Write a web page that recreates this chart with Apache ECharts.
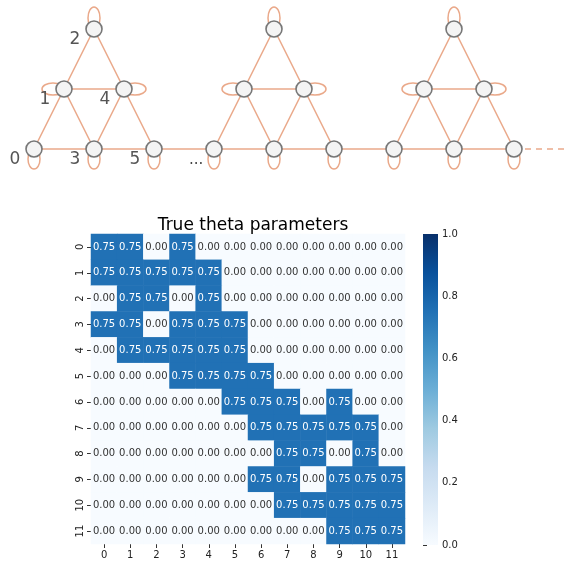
<!DOCTYPE html>
<html>
<head>
<meta charset="utf-8">
<script src="https://cdn.jsdelivr.net/npm/echarts@6/dist/echarts.min.js"></script>
<style>
  html, body { margin: 0; padding: 0; background: #fff; }
  #chart { width: 567px; height: 561px; }
</style>
</head>
<body>
<div id="chart"></div>
<script>
  // graph: one triangle block, repeated with an x offset
  const triNodes = [[0, 0], [0.5, 1], [1, 2], [1, 0], [1.5, 1], [2, 0]];
  const triEdges = [[2, 1], [2, 4], [1, 4], [1, 0], [1, 3], [4, 3], [4, 5], [0, 3], [3, 5]];
  const loopDir = ['down', 'left', 'up', 'down', 'right', 'down'];
  const triOffsets = [0, 3, 6];

  // heatmap
  const cats = ['0', '1', '2', '3', '4', '5', '6', '7', '8', '9', '10', '11'];
  const theta = [
    [0.75, 0.75, 0, 0.75, 0, 0, 0, 0, 0, 0, 0, 0],
    [0.75, 0.75, 0.75, 0.75, 0.75, 0, 0, 0, 0, 0, 0, 0],
    [0, 0.75, 0.75, 0, 0.75, 0, 0, 0, 0, 0, 0, 0],
    [0.75, 0.75, 0, 0.75, 0.75, 0.75, 0, 0, 0, 0, 0, 0],
    [0, 0.75, 0.75, 0.75, 0.75, 0.75, 0, 0, 0, 0, 0, 0],
    [0, 0, 0, 0.75, 0.75, 0.75, 0.75, 0, 0, 0, 0, 0],
    [0, 0, 0, 0, 0, 0.75, 0.75, 0.75, 0, 0.75, 0, 0],
    [0, 0, 0, 0, 0, 0, 0.75, 0.75, 0.75, 0.75, 0.75, 0],
    [0, 0, 0, 0, 0, 0, 0, 0.75, 0.75, 0, 0.75, 0],
    [0, 0, 0, 0, 0, 0, 0.75, 0.75, 0, 0.75, 0.75, 0.75],
    [0, 0, 0, 0, 0, 0, 0, 0.75, 0.75, 0.75, 0.75, 0.75],
    [0, 0, 0, 0, 0, 0, 0, 0, 0, 0.75, 0.75, 0.75]
  ];
  const blues = ['#f7fbff', '#deebf7', '#c6dbef', '#9ecae1', '#6baed6',
                 '#4292c6', '#2171b5', '#08519c', '#08306b'];

  const FONT = 'DejaVu Sans';
  const edgeColor = '#eaa98a';

  // build graph nodes / links
  let nodes = [], links = [], loops = [];
  triOffsets.forEach((off, t) => {
    triNodes.forEach((p, i) => {
      nodes.push({
        name: t + '_' + i,
        value: [p[0] + off, p[1]],
        label: { show: t === 0, formatter: String(i) }
      });
      loops.push([p[0] + off, p[1], loopDir[i]]);
    });
    triEdges.forEach(e => links.push({ source: t + '_' + e[0], target: t + '_' + e[1] }));
    if (t > 0) links.push({ source: (t - 1) + '_5', target: t + '_0' });
  });
  const last = triOffsets[triOffsets.length - 1];

  let heatData = [];
  theta.forEach((row, r) => row.forEach((v, c) => {
    heatData.push({
      value: [c, r, v],
      label: { color: v > 0.5 ? '#ffffff' : '#333333' }
    });
  }));

  const chart = echarts.init(document.getElementById('chart'));
  chart.setOption({
    animation: false,
    textStyle: { fontFamily: FONT },
    title: {
      text: 'True theta parameters',
      left: 248, top: 212, textAlign: 'center',
      textStyle: { fontFamily: FONT, fontSize: 17, fontWeight: 'normal', color: '#000' }
    },
    graphic: [{
      type: 'text', left: 189, top: 153,
      style: { text: '...', fontFamily: FONT, fontSize: 15, fill: '#444' }
    }],
    grid: [
      { left: 34, top: 29, width: 510, height: 120 },
      { left: 91, top: 234, width: 314, height: 310 },
      { left: 423, top: 234, width: 15, height: 311 }
    ],
    xAxis: [
      { gridIndex: 0, type: 'value', min: 0, max: 8.5, show: false },
      {
        gridIndex: 1, type: 'category', data: cats,
        axisLine: { show: false }, splitArea: { show: false },
        axisTick: { show: true, alignWithLabel: true, length: 4, lineStyle: { color: '#333' } },
        axisLabel: { fontFamily: FONT, fontSize: 10, color: '#222', margin: 6 }
      },
      { gridIndex: 2, type: 'value', min: 0, max: 1, show: false }
    ],
    yAxis: [
      { gridIndex: 0, type: 'value', min: 0, max: 2, show: false },
      {
        gridIndex: 1, type: 'category', data: cats, inverse: true,
        axisLine: { show: false },
        axisTick: { show: true, alignWithLabel: true, length: 4, lineStyle: { color: '#333' } },
        axisLabel: { fontFamily: FONT, fontSize: 10, color: '#222', rotate: 90, margin: 6 }
      },
      {
        gridIndex: 2, type: 'value', min: 0, max: 1, interval: 0.2, position: 'right',
        axisLine: { show: false }, splitLine: { show: false },
        axisTick: { show: true, length: 4, lineStyle: { color: '#333' } },
        axisLabel: { fontFamily: FONT, fontSize: 10, color: '#222', margin: 4,
                     formatter: v => v.toFixed(1) }
      }
    ],
    visualMap: {
      show: false, type: 'continuous', min: 0, max: 1, seriesIndex: 3,
      inRange: { color: blues }
    },
    series: [
      {
        // self loops
        type: 'custom', coordinateSystem: 'cartesian2d', xAxisIndex: 0, yAxisIndex: 0,
        z: 1, silent: true, clip: false,
        data: loops,
        renderItem: function (params, api) {
          const p = api.coord([api.value(0), api.value(1)]);
          const d = api.value(2);
          let shape;
          if (d === 'down') shape = { cx: p[0], cy: p[1] + 10, rx: 6, ry: 10 };
          else if (d === 'up') shape = { cx: p[0], cy: p[1] - 11, rx: 6, ry: 11 };
          else if (d === 'left') shape = { cx: p[0] - 11, cy: p[1], rx: 11, ry: 6 };
          else shape = { cx: p[0] + 11, cy: p[1], rx: 11, ry: 6 };
          return { type: 'ellipse', shape: shape,
                   style: { fill: 'none', stroke: edgeColor, lineWidth: 1.5 } };
        }
      },
      {
        type: 'lines', coordinateSystem: 'cartesian2d', xAxisIndex: 0, yAxisIndex: 0,
        z: 1, silent: true, clip: false,
        lineStyle: { color: edgeColor, width: 1.5, type: [6, 5], opacity: 1 },
        data: [{ coords: [[last + 2, 0], [last + 3, 0]] }]
      },
      {
        type: 'graph', coordinateSystem: 'cartesian2d', xAxisIndex: 0, yAxisIndex: 0,
        z: 2, silent: true,
        symbol: 'circle', symbolSize: 16,
        itemStyle: { color: '#f4f4f4', borderColor: '#777', borderWidth: 1.6 },
        lineStyle: { color: edgeColor, width: 1.5, opacity: 1 },
        label: { position: 'left', distance: 5, offset: [0, 11],
                 fontFamily: FONT, fontSize: 17, color: '#555' },
        data: nodes,
        links: links
      },
      {
        type: 'heatmap', xAxisIndex: 1, yAxisIndex: 1,
        data: heatData,
        label: { show: true, fontFamily: FONT, fontSize: 10,
                 formatter: p => p.value[2].toFixed(2) },
        itemStyle: { borderWidth: 0 }
      },
      {
        // colorbar
        type: 'custom', coordinateSystem: 'cartesian2d', xAxisIndex: 2, yAxisIndex: 2,
        silent: true,
        data: [[0, 0]],
        renderItem: function (params, api) {
          const a = api.coord([0, 1]);
          const b = api.coord([1, 0]);
          const stops = blues.map((c, i) => ({ offset: 1 - i / (blues.length - 1), color: c }))
            .reverse();
          return {
            type: 'rect',
            shape: { x: a[0], y: a[1], width: b[0] - a[0], height: b[1] - a[1] },
            style: { fill: new echarts.graphic.LinearGradient(0, 0, 0, 1, stops) }
          };
        }
      }
    ]
  });
</script>
</body>
</html>
